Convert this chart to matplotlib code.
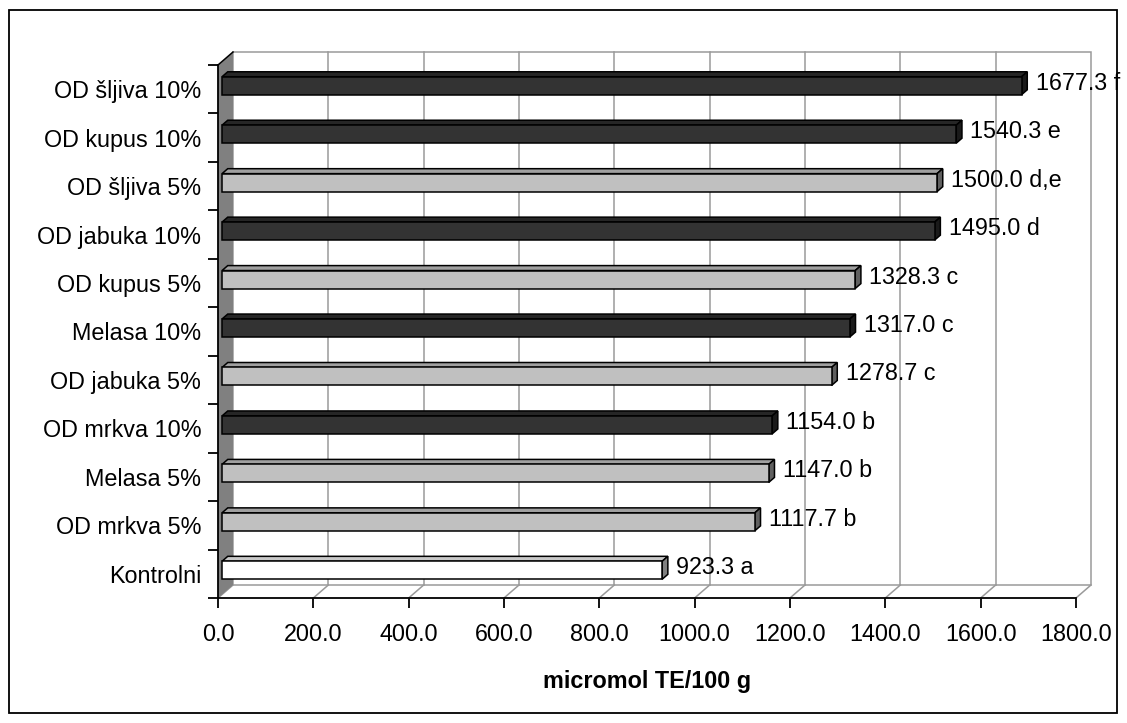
import matplotlib
matplotlib.use('Agg')
import matplotlib.pyplot as plt
from matplotlib.patches import Polygon, Rectangle

plt.rcParams['font.family'] = ['Liberation Sans', 'DejaVu Sans']

# Data (top to bottom as in the chart)
categories = ['OD šljiva 10%', 'OD kupus 10%', 'OD šljiva 5%', 'OD jabuka 10%',
              'OD kupus 5%', 'Melasa 10%', 'OD jabuka 5%', 'OD mrkva 10%',
              'Melasa 5%', 'OD mrkva 5%', 'Kontrolni']
values = [1677.3, 1540.3, 1500.0, 1495.0, 1328.3, 1317.0, 1278.7, 1154.0,
          1147.0, 1117.7, 923.3]
letters = ['f', 'e', 'd,e', 'd', 'c', 'c', 'c', 'b', 'b', 'b', 'a']
dose = ['10%', '10%', '5%', '10%', '5%', '10%', '5%', '10%', '5%', '5%', 'kontrola']
xticks = [0, 200, 400, 600, 800, 1000, 1200, 1400, 1600, 1800]

# colours per dose: front, top, end
colors = {
    '10%': ('#333333', '#262626', '#1a1a1a'),
    '5%': ('#c0c0c0', '#a0a0a0', '#606060'),
    'kontrola': ('#ffffff', '#c8c8c8', '#808080'),
}
FS = 16.8

W, H = 1127, 723
fig = plt.figure(figsize=(W / 100, H / 100), dpi=100)

# front plane of the 3D plot area, in pixels
AX_L, AX_R, AX_T, AX_B = 218, 1076, 65, 598
ax = fig.add_axes([AX_L / W, (H - AX_B) / H, (AX_R - AX_L) / W, (AX_B - AX_T) / H])
n = len(categories)
xmax = 1800
ax.set_xlim(0, xmax)
ax.set_ylim(-0.5, n - 0.5)
ax.patch.set_visible(False)

# pixel -> data units
sx = xmax / (AX_R - AX_L)
sy = n / (AX_B - AX_T)
DX, DY = 15 * sx, 13 * sy  # depth vector

grid = '#9a9a9a'
y0, y1 = -0.5, n - 0.5

# back wall
ax.add_patch(Rectangle((DX, y0 + DY), xmax, n, facecolor='white',
                       edgecolor=grid, lw=1.1, clip_on=False, zorder=1))
for xt in xticks[1:-1]:
    ax.plot([xt + DX, xt + DX], [y0 + DY, y1 + DY], color=grid, lw=1.1,
            clip_on=False, zorder=2)
# floor lines
for xt in xticks:
    ax.plot([xt, xt + DX], [y0, y0 + DY], color=grid, lw=1.1, clip_on=False, zorder=2)
# left side wall
ax.add_patch(Polygon([(0, y0), (0, y1), (DX, y1 + DY), (DX, y0 + DY)],
                     closed=True, facecolor='#808080', edgecolor='none',
                     clip_on=False, zorder=3))
ax.plot([0, DX], [y1, y1 + DY], color='black', lw=1.1, clip_on=False, zorder=4)

# bars
f0, f1 = 0.27, 0.65
bh = 18 * sy
for k in range(n):
    i = n - 1 - k
    v = values[k]
    front, top, end = colors[dose[k]]
    ox0, oy0 = f0 * DX, f0 * DY
    ox1, oy1 = f1 * DX, f1 * DY
    yb = i - bh / 2 + oy0
    yt = i + bh / 2 + oy0
    kw = dict(closed=True, edgecolor='black', lw=1.1, clip_on=False, zorder=5,
              joinstyle='miter')
    ax.add_patch(Polygon([(ox0, yt), (v + ox0, yt), (v + ox1, yt + oy1 - oy0),
                          (ox1, yt + oy1 - oy0)], facecolor=top, **kw))
    ax.add_patch(Polygon([(v + ox0, yb), (v + ox0, yt), (v + ox1, yt + oy1 - oy0),
                          (v + ox1, yb + oy1 - oy0)], facecolor=end, **kw))
    ax.add_patch(Polygon([(ox0, yb), (v + ox0, yb), (v + ox0, yt), (ox0, yt)],
                         facecolor=front, **kw))
    ax.annotate(f'{v:.1f} {letters[k]}', xy=(v, i), xytext=(18, 6),
                textcoords='offset pixels', ha='left', va='center',
                fontsize=FS, clip_on=False, zorder=6)

# axes
for s in ['top', 'right']:
    ax.spines[s].set_visible(False)
for s in ['left', 'bottom']:
    ax.spines[s].set_linewidth(1.3)
    ax.spines[s].set_zorder(7)
ax.set_xticks(xticks)
ax.set_xticklabels([f'{t:.1f}' for t in xticks], fontsize=FS)
ax.set_yticks([i + 0.5 for i in range(-1, n)], minor=False)
ax.set_yticklabels([])
ax.set_yticks(range(n), minor=True)
ax.set_yticklabels(categories[::-1], minor=True, fontsize=FS)
ax.tick_params(axis='y', which='minor', length=0, pad=12)
ax.tick_params(axis='y', which='major', length=7, width=1.3, direction='out')
ax.tick_params(axis='x', length=7, width=1.3, direction='out', pad=11)
ax.set_xlabel('micromol TE/100 g', fontsize=FS, fontweight='bold', labelpad=17)

# chart border
fig.add_artist(Rectangle((9 / W, (H - 713) / H), 1108 / W, 703 / H,
                         transform=fig.transFigure, fill=False,
                         edgecolor='black', lw=1.3))

fig.savefig('out.png', dpi=100)
